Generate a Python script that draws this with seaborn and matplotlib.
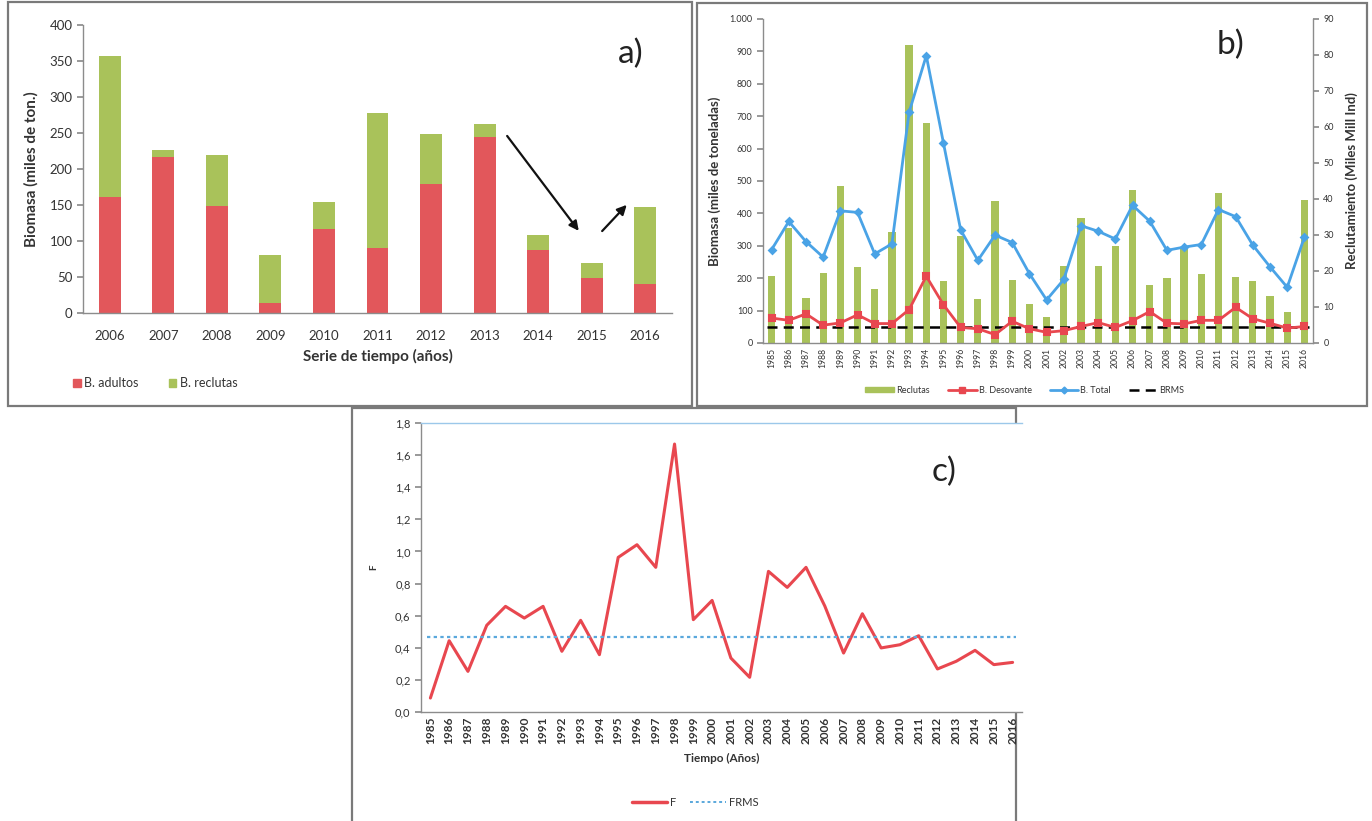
import numpy as np
import pandas as pd
import matplotlib
matplotlib.use("Agg")
import matplotlib.pyplot as plt
from matplotlib.patches import Rectangle, Patch
from matplotlib.lines import Line2D
from matplotlib.ticker import FixedLocator, FuncFormatter
import seaborn as sns

# ---------------- data ----------------
# Panel a
years_a = ["2006", "2007", "2008", "2009", "2010", "2011", "2012", "2013", "2014", "2015", "2016"]
b_adultos = [161, 217, 148, 14, 117, 90, 179, 245, 87, 49, 40]
b_reclutas = [196, 10, 71, 66, 37, 188, 69, 18, 21, 21, 107]

# Panel b
years_b = ["1985", "1986", "1987", "1988", "1989", "1990", "1991", "1992", "1993", "1994",
           "1995", "1996", "1997", "1998", "1999", "2000", "2001", "2002", "2003", "2004",
           "2005", "2006", "2007", "2008", "2009", "2010", "2011", "2012", "2013", "2014",
           "2015", "2016"]
reclutas_b = [18.5, 32.0, 12.5, 19.4, 43.7, 21.1, 14.9, 30.7, 82.8, 61.2,
              17.3, 29.8, 12.1, 39.5, 17.5, 10.8, 7.1, 21.4, 34.8, 21.3,
              27.0, 42.5, 16.1, 18.0, 26.7, 19.1, 41.8, 18.2, 17.3, 13.0,
              8.7, 39.7]
b_desovante = [77, 70, 90, 55, 62, 87, 60, 60, 103, 206,
               118, 48, 44, 26, 67, 44, 33, 38, 51, 63,
               48, 69, 97, 61, 59, 70, 70, 110, 75, 61,
               46, 51]
b_total = [288, 375, 313, 265, 408, 403, 275, 306, 712, 887,
           617, 349, 255, 333, 310, 214, 133, 196, 362, 345,
           321, 425, 376, 286, 296, 304, 412, 390, 302, 235,
           172, 327]
brms = 48

# Panel c
years_c = years_b
f_values = [0.087, 0.444, 0.253, 0.54, 0.658, 0.585, 0.658, 0.378, 0.571, 0.357,
            0.963, 1.042, 0.901, 1.669, 0.575, 0.695, 0.336, 0.216, 0.876, 0.776,
            0.901, 0.66, 0.367, 0.612, 0.399, 0.419, 0.475, 0.268, 0.316, 0.384,
            0.295, 0.309]
frms = 0.47

# ---------------- style ----------------
sns.set_theme(style="white")
plt.rcParams["font.family"] = ["Lato", "DejaVu Sans"]
plt.rcParams["axes.linewidth"] = 1.0

RED = "#E2575B"
GREEN = "#A9C25A"
BLUE = "#4AA3E6"
LINE_RED = "#E8474F"
AXC = "#8C8C8C"
TXT = "#333333"

W, H = 1372, 821
fig = plt.figure(figsize=(W / 100, H / 100), dpi=100)
fig.patch.set_facecolor("white")


def fax(x0, y0, x1, y1):
    """pixel box -> figure axes"""
    return fig.add_axes([x0 / W, 1 - y1 / H, (x1 - x0) / W, (y1 - y0) / H])


def frame(x0, y0, x1, y1):
    fig.add_artist(Rectangle((x0 / W, 1 - y1 / H), (x1 - x0) / W, (y1 - y0) / H,
                             transform=fig.transFigure, fill=False,
                             edgecolor="#7a7a7a", linewidth=1.6, zorder=0))


def style_axes(ax, n):
    for s in ["top", "right"]:
        ax.spines[s].set_visible(False)
    for s in ["left", "bottom"]:
        ax.spines[s].set_color(AXC)
    ax.xaxis.set_minor_locator(FixedLocator(np.arange(-0.5, n, 1.0)))
    ax.tick_params(axis="x", which="major", length=0)
    ax.tick_params(axis="x", which="minor", length=4, color=AXC, direction="out")
    ax.tick_params(axis="y", length=4, color=AXC, direction="out", left=True)
    ax.set_xlim(-0.5, n - 0.5)


# ---------------- panel a ----------------
frame(8, 2, 692, 406)
axa = fax(83, 25, 672, 313)
df_a = pd.DataFrame({"year": years_a, "adultos": b_adultos, "reclutas": b_reclutas})
df_a["total"] = df_a["adultos"] + df_a["reclutas"]
sns.barplot(data=df_a, x="year", y="total", color=GREEN, saturation=1, width=0.41,
            linewidth=0, ax=axa)
sns.barplot(data=df_a, x="year", y="adultos", color=RED, saturation=1, width=0.41,
            linewidth=0, ax=axa)
style_axes(axa, len(years_a))
axa.set_ylim(0, 400)
axa.set_yticks(np.arange(0, 401, 50))
axa.tick_params(axis="both", labelsize=9.5, labelcolor=TXT)
axa.tick_params(axis="x", pad=12)
axa.set_xlabel("Serie de tiempo (años)", fontsize=11, fontweight="bold", color=TXT, labelpad=5)
axa.set_ylabel("Biomasa (miles de ton.)", fontsize=11, fontweight="bold", color=TXT, labelpad=8)
axa.text(0.93, 0.9, "a)", transform=axa.transAxes, fontsize=24, color="#222222",
         ha="center", va="center")
axa.annotate("", xy=(8.79, 111), xytext=(7.39, 249),
             arrowprops=dict(arrowstyle="-|>", color="#111111", lw=1.6, mutation_scale=14))
axa.annotate("", xy=(9.69, 153), xytext=(9.16, 111),
             arrowprops=dict(arrowstyle="-|>", color="#111111", lw=1.6, mutation_scale=14))
fig.legend(handles=[Patch(color=RED, label="B. adultos"), Patch(color=GREEN, label="B. reclutas")],
           loc="center left", bbox_to_anchor=(62 / W, 1 - 383 / H), ncol=2, frameon=False,
           fontsize=9, handlelength=0.6, handleheight=0.6, handletextpad=0.3, columnspacing=2.4,
           labelcolor=TXT)

# ---------------- panel b ----------------
frame(697, 3, 1367, 406)
axb = fax(763, 19, 1313, 343)
axb2 = axb.twinx()
n_b = len(years_b)
sns.barplot(x=years_b, y=reclutas_b, color=GREEN, saturation=1, width=0.42, linewidth=0,
            ax=axb2)
axb.axhline(brms, xmin=0.008, xmax=0.992, color="black", linestyle=(0, (4, 2.5)), linewidth=1.8,
            zorder=2)
sns.pointplot(x=years_b, y=b_desovante, color=LINE_RED, markers="s", linestyles="-",
              markersize=5, linewidth=2.0, errorbar=None, ax=axb)
sns.pointplot(x=years_b, y=b_total, color=BLUE, markers="D", linestyles="-",
              markersize=3.5, linewidth=2.0, errorbar=None, ax=axb)
axb.set_zorder(axb2.get_zorder() + 1)
axb.patch.set_visible(False)
style_axes(axb, n_b)
axb2.set_xlim(-0.5, n_b - 0.5)
axb.set_ylim(0, 1000)
axb2.set_ylim(0, 90)
axb.set_yticks(np.arange(0, 1001, 100))
axb.yaxis.set_major_formatter(FuncFormatter(lambda v, p: "1.000" if v >= 1000 else f"{int(v)}"))
axb2.set_yticks(np.arange(0, 91, 10))
for s in ["top", "left", "bottom"]:
    axb2.spines[s].set_visible(False)
axb2.spines["right"].set_color(AXC)
axb2.tick_params(axis="y", length=4, color=AXC, direction="out", right=True, labelsize=6.5,
                 labelcolor=TXT)
axb.tick_params(axis="y", labelsize=6.5, labelcolor=TXT)
axb.tick_params(axis="x", labelsize=6.2, labelcolor=TXT, rotation=90)
axb.set_xlabel("")
axb2.set_xlabel("")
axb.set_ylabel("Biomasa (miles de toneladas)", fontsize=9.5, fontweight="bold", color=TXT,
               labelpad=6)
axb2.set_ylabel("Reclutamiento (Miles Mill Ind)", fontsize=9.5, fontweight="bold", color=TXT,
                labelpad=8)
axb.text(0.85, 0.92, "b)", transform=axb.transAxes, fontsize=24, color="#222222",
         ha="center", va="center")
fig.legend(handles=[Patch(color=GREEN, label="Reclutas"),
                    Line2D([], [], color=LINE_RED, marker="s", markersize=5, lw=2, label="B. Desovante"),
                    Line2D([], [], color=BLUE, marker="D", markersize=3.5, lw=2, label="B. Total"),
                    Line2D([], [], color="black", linestyle=(0, (4, 2.5)), lw=1.8, label="BRMS")],
           loc="center", bbox_to_anchor=(1025 / W, 1 - 390 / H), ncol=4, frameon=False,
           fontsize=6.5, handlelength=3.2, handleheight=0.5, handletextpad=0.2, columnspacing=2.0,
           labelcolor=TXT)

# ---------------- panel c ----------------
frame(352, 408, 1016, 824)
axc = fax(421, 423, 1022, 712)
n_c = len(years_c)
sns.pointplot(x=years_c, y=f_values, color=LINE_RED, markers="o", markersize=0,
              linestyles="-", linewidth=2.2, errorbar=None, ax=axc)
axc.axhline(frms, xmin=0.01, xmax=0.99, color="#5AA8DC", linestyle=(0, (1.5, 1.5)),
            linewidth=1.6)
style_axes(axc, n_c)
axc.spines["top"].set_visible(True)
axc.spines["top"].set_color("#9CC8EA")
axc.set_ylim(0, 1.8)
axc.set_yticks(np.arange(0, 1.81, 0.2))
axc.yaxis.set_major_formatter(FuncFormatter(lambda v, p: f"{v:.1f}".replace(".", ",")))
axc.tick_params(axis="y", labelsize=8, labelcolor=TXT)
axc.tick_params(axis="x", labelsize=8.5, labelcolor=TXT, rotation=90)
for lab in axc.get_xticklabels():
    lab.set_fontweight("bold")
axc.set_xlabel("Tiempo (Años)", fontsize=8.5, fontweight="bold", color=TXT, labelpad=6)
axc.set_ylabel("F", fontsize=7, fontweight="bold", color=TXT, labelpad=12)
axc.text(0.87, 0.83, "c)", transform=axc.transAxes, fontsize=24, color="#222222",
         ha="center", va="center")
fig.legend(handles=[Line2D([], [], color=LINE_RED, lw=2.5, label="F"),
                    Line2D([], [], color="#5AA8DC", lw=1.4, linestyle=(0, (1.5, 1.5)), label="FRMS")],
           loc="center", bbox_to_anchor=(695 / W, 1 - 802 / H), ncol=2, frameon=False,
           fontsize=8, handlelength=3.2, handletextpad=0.3, columnspacing=1.2, labelcolor=TXT)

fig.savefig("out.png", dpi=100, facecolor="white")
